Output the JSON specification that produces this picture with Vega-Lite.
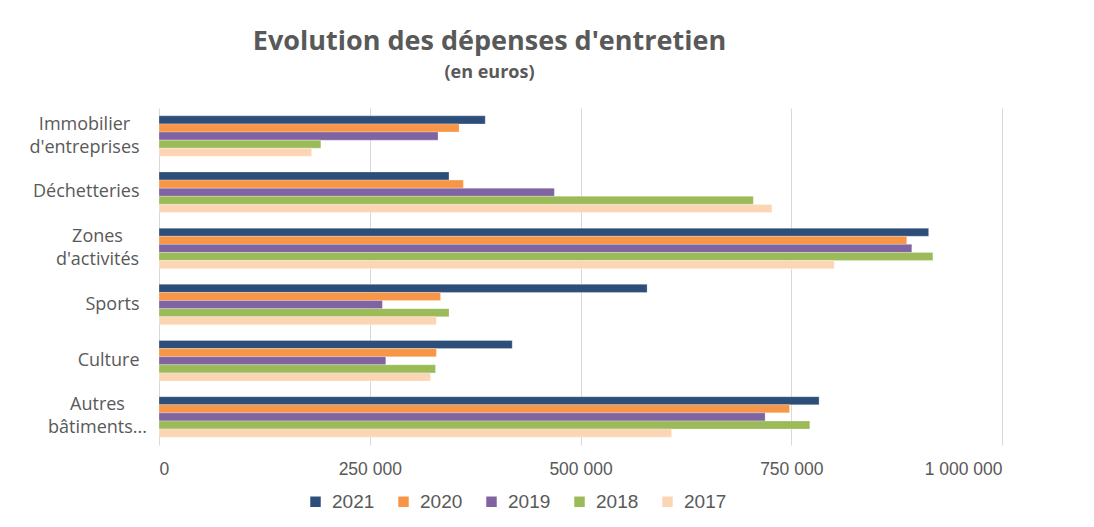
{
  "$schema": "https://vega.github.io/schema/vega-lite/v6.json",
  "width": 843,
  "height": 337,
  "autosize": {"type": "none"},
  "padding": {"left": 159, "top": 108, "right": 92, "bottom": 82},
  "background": "white",
  "title": {
    "text": "Evolution des dépenses d'entretien",
    "subtitle": "(en euros)",
    "anchor": "middle",
    "dx": -91,
    "offset": 25,
    "font": "Open Sans",
    "fontSize": 27,
    "fontWeight": "bold",
    "color": "#595959",
    "subtitleFont": "Open Sans",
    "subtitleFontSize": 18,
    "subtitleFontWeight": "bold",
    "subtitleColor": "#595959",
    "subtitlePadding": 8
  },
  "data": {
    "values": [
      {"categorie": "Immobilier d'entreprises", "annee": "2021", "montant": 387000},
      {"categorie": "Immobilier d'entreprises", "annee": "2020", "montant": 356000},
      {"categorie": "Immobilier d'entreprises", "annee": "2019", "montant": 331000},
      {"categorie": "Immobilier d'entreprises", "annee": "2018", "montant": 192000},
      {"categorie": "Immobilier d'entreprises", "annee": "2017", "montant": 181000},
      {"categorie": "Déchetteries", "annee": "2021", "montant": 344000},
      {"categorie": "Déchetteries", "annee": "2020", "montant": 361000},
      {"categorie": "Déchetteries", "annee": "2019", "montant": 469000},
      {"categorie": "Déchetteries", "annee": "2018", "montant": 705000},
      {"categorie": "Déchetteries", "annee": "2017", "montant": 727000},
      {"categorie": "Zones d'activités", "annee": "2021", "montant": 913000},
      {"categorie": "Zones d'activités", "annee": "2020", "montant": 887000},
      {"categorie": "Zones d'activités", "annee": "2019", "montant": 893000},
      {"categorie": "Zones d'activités", "annee": "2018", "montant": 918000},
      {"categorie": "Zones d'activités", "annee": "2017", "montant": 801000},
      {"categorie": "Sports", "annee": "2021", "montant": 579000},
      {"categorie": "Sports", "annee": "2020", "montant": 334000},
      {"categorie": "Sports", "annee": "2019", "montant": 265000},
      {"categorie": "Sports", "annee": "2018", "montant": 344000},
      {"categorie": "Sports", "annee": "2017", "montant": 329000},
      {"categorie": "Culture", "annee": "2021", "montant": 419000},
      {"categorie": "Culture", "annee": "2020", "montant": 329000},
      {"categorie": "Culture", "annee": "2019", "montant": 269000},
      {"categorie": "Culture", "annee": "2018", "montant": 328000},
      {"categorie": "Culture", "annee": "2017", "montant": 322000},
      {"categorie": "Autres bâtiments...", "annee": "2021", "montant": 783000},
      {"categorie": "Autres bâtiments...", "annee": "2020", "montant": 748000},
      {"categorie": "Autres bâtiments...", "annee": "2019", "montant": 719000},
      {"categorie": "Autres bâtiments...", "annee": "2018", "montant": 772000},
      {"categorie": "Autres bâtiments...", "annee": "2017", "montant": 608000}
    ]
  },
  "mark": {"type": "bar", "stroke": "white", "strokeWidth": 0.5, "strokeOpacity": 0.5},
  "encoding": {
    "y": {
      "field": "categorie",
      "type": "nominal",
      "sort": ["Immobilier d'entreprises", "Déchetteries", "Zones d'activités", "Sports", "Culture", "Autres bâtiments..."],
      "scale": {"paddingInner": 0.28, "paddingOuter": 0.14},
      "axis": {
        "title": null,
        "domain": false,
        "ticks": false,
        "labelExpr": "split(datum.label, ' ')",
        "labelAlign": {"condition": {"test": "indexof(datum.value, ' ') > 0", "value": "center"}, "value": "right"},
        "labelPadding": {"condition": [
          {"test": "indexof(datum.value, 'Immobilier') == 0", "value": 75},
          {"test": "indexof(datum.value, ' ') > 0", "value": 62}
        ], "value": 20},
        "labelOffset": {"condition": {"test": "indexof(datum.value, ' ') > 0", "value": -11.5}, "value": 0},
        "labelFont": "Open Sans",
        "labelFontSize": 18,
        "labelColor": "#595959",
        "labelLineHeight": 23,
        "labelLimit": 200
      }
    },
    "yOffset": {
      "field": "annee",
      "type": "nominal",
      "sort": ["2021", "2020", "2019", "2018", "2017"]
    },
    "x": {
      "field": "montant",
      "type": "quantitative",
      "scale": {"domain": [0, 1000000], "nice": false},
      "axis": {
        "title": null,
        "values": [0, 250000, 500000, 750000, 1000000],
        "labelExpr": "replace(format(datum.value, ','), /,/g, ' ')",
        "domain": false,
        "ticks": false,
        "grid": true,
        "gridColor": "#D9D9D9",
        "gridWidth": 1,
        "labelPadding": 15,
        "labelFont": "Liberation Sans",
        "labelFontSize": 17.5,
        "labelColor": "#595959"
      }
    },
    "color": {
      "field": "annee",
      "type": "nominal",
      "sort": ["2021", "2020", "2019", "2018", "2017"],
      "scale": {
        "domain": ["2021", "2020", "2019", "2018", "2017"],
        "range": ["#2E4E7A", "#F79646", "#8064A2", "#9BBB59", "#FCD5B5"]
      },
      "legend": {
        "title": null,
        "orient": "none",
        "direction": "horizontal",
        "legendX": 147,
        "legendY": 384,
        "symbolType": "square",
        "symbolSize": 110,
        "symbolStrokeWidth": 0,
        "labelFont": "Liberation Sans",
        "labelFontSize": 19,
        "labelColor": "#595959",
        "labelOffset": 7,
        "columnPadding": 19
      }
    }
  },
  "config": {
    "view": {"stroke": null}
  }
}
